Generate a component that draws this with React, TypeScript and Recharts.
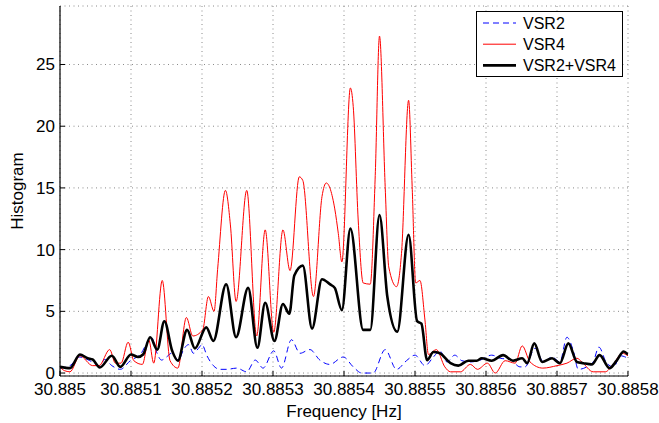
import React from "react";
import {
  CartesianGrid,
  Legend,
  Line,
  LineChart,
  XAxis,
  YAxis,
} from "recharts";

// frequency offsets in µHz from 30.885 Hz
const vsr2Freq = [0, 14, 28, 42, 56, 63, 73, 85, 99, 113, 129, 136, 143, 150, 157, 167, 174, 181, 188, 195, 200, 207, 216, 225, 235, 249, 263, 275, 286, 301, 312, 326, 338, 352, 366, 380, 399, 413, 425, 441, 458, 474, 488, 500, 514, 526, 535, 545, 556, 566, 578, 592, 608, 620, 634, 648, 655, 669, 681, 693, 704, 714, 723, 730, 742, 751, 759, 770, 780, 789, 800];
const vsr2Hist = [0.4, 0.6, 1.3, 1.0, 0.6, 1.1, 0.6, 0.3, 1.0, 1.5, 2.9, 1.7, 1.05, 1.3, 1.6, 1.05, 1.9, 2.3, 1.6, 2.0, 2.3, 1.4, 0.6, 0.3, 0.3, 0.4, 0.1, 1.05, 0.4, 1.8, 0.4, 2.7, 1.6, 1.9, 1.05, 0.7, 1.3, 0.5, 0.0, 0.0, 1.9, 0.3, 1.0, 1.45, 0.6, 1.3, 1.8, 0.9, 1.45, 1.0, 0.9, 1.05, 1.45, 1.2, 1.1, 0.5, 0.5, 2.0, 0.9, 1.3, 0.9, 2.9, 1.8, 0.3, 0.5, 0.9, 2.1, 0.8, 0.5, 1.4, 1.2];

const vsr4Freq = [0, 6, 14, 28, 46, 55, 70, 78, 86, 96, 104, 116, 125, 132, 144, 155, 166, 178, 187, 201, 209, 217, 222, 233, 240, 248, 263, 277, 289, 301, 314, 324, 337, 342, 357, 369, 375, 387, 392, 397, 409, 413, 420, 427, 437, 444, 450, 458, 463, 474, 481, 491, 496, 501, 507, 514, 519, 530, 542, 550, 564, 578, 588, 602, 613, 627, 641, 651, 662, 680, 700, 714, 728, 735, 751, 768, 779, 792, 800];
const vsr4Hist = [0.5, 0.2, 0.1, 1.4, 0.6, 0.6, 1.9, 0.8, 0.8, 2.5, 1.0, 0.7, 2.7, 0.8, 7.5, 1.0, 0.4, 4.5, 3.0, 3.5, 6.2, 5.0, 8.4, 14.8, 12.0, 5.8, 14.8, 3.0, 11.6, 3.3, 11.6, 8.3, 15.9, 15.6, 6.2, 14.3, 15.4, 13.3, 11.3, 9.0, 23.1, 21.6, 12.4, 7.3, 7.2, 16.0, 27.3, 15.1, 8.6, 7.0, 9.7, 22.1, 15.1, 7.3, 7.5, 4.3, 1.5, 1.9, 0.5, 0.1, 0.1, 0.7, 0.3, 0.8, 0.0, 1.0, 0.8, 2.2, 0.9, 0.4, 0.6, 0.8, 1.2, 0.9, 0.1, 0.1, 0.7, 1.6, 1.4];

const sumFreq = [0, 14, 28, 39, 46, 56, 73, 85, 100, 110, 117, 127, 137, 147, 158, 166, 179, 190, 206, 216, 234, 248, 265, 278, 289, 302, 314, 323, 330, 342, 355, 369, 380, 387, 397, 409, 427, 437, 450, 461, 475, 491, 503, 509, 517, 526, 535, 550, 561, 575, 587, 594, 608, 624, 638, 651, 658, 668, 679, 693, 704, 716, 728, 737, 749, 760, 774, 784, 794, 800];
const sumHist = [0.5, 0.4, 1.5, 1.2, 1.1, 0.45, 1.4, 0.5, 1.5, 1.3, 1.5, 2.9, 1.9, 4.2, 1.8, 1.0, 3.5, 2.0, 3.7, 2.6, 7.2, 2.9, 6.9, 2.05, 5.7, 2.6, 5.6, 4.8, 7.9, 8.7, 3.6, 7.6, 7.2, 6.9, 5.1, 11.7, 3.5, 3.5, 12.8, 6.2, 3.35, 11.2, 4.2, 4.0, 1.05, 1.7, 1.6, 0.8, 0.6, 1.0, 1.0, 1.2, 1.0, 1.45, 1.0, 1.2, 0.8, 2.4, 0.9, 1.2, 0.8, 2.4, 0.9, 0.8, 0.7, 1.45, 0.4, 1.0, 1.75, 1.5];

const xTicks = [0, 100, 200, 300, 400, 500, 600, 700, 800];
const xTickLabels = ["30.885", "30.8851", "30.8852", "30.8853", "30.8854", "30.8855", "30.8856", "30.8857", "30.8858"];
const yTicks = [0, 5, 10, 15, 20, 25];

const toRows = (freq: number[], hist: number[]) =>
  freq.map((x, i) => ({ x, v: hist[i] }));

const font = "'Liberation Sans', Arial, sans-serif";

const BottomTick = ({ x, y, payload }: any) => (
  <g>
    <line x1={x} x2={x} y1={y} y2={y - 5} stroke="#000" />
    <text x={x} y={y + 19} textAnchor="middle" fontSize={17} fontFamily={font} fill="#000">
      {xTickLabels[xTicks.indexOf(payload.value)]}
    </text>
  </g>
);
const TopTick = ({ x, y }: any) => <line x1={x} x2={x} y1={y} y2={y + 5} stroke="#000" />;
const LeftTick = ({ x, y, payload }: any) => (
  <g>
    <line x1={x} x2={x + 5} y1={y} y2={y} stroke="#000" />
    <text x={x - 5} y={y} dy="0.35em" textAnchor="end" fontSize={17} fontFamily={font} fill="#000">
      {payload.value}
    </text>
  </g>
);
const RightTick = ({ x, y }: any) => <line x1={x} x2={x - 5} y1={y} y2={y} stroke="#000" />;

const legendItems = [
  { name: "VSR2", color: "#0000ff", width: 1, dash: "6 4" },
  { name: "VSR4", color: "#ff0000", width: 1, dash: undefined },
  { name: "VSR2+VSR4", color: "#000000", width: 2.6, dash: undefined },
];

const LegendBox = () => (
  <svg width={147} height={66} style={{ display: "block" }}>
    <rect x={0.5} y={0.5} width={146} height={65} fill="#fff" stroke="#000" />
    {legendItems.map((it, i) => {
      const cy = 12 + i * 21.2;
      return (
        <g key={it.name}>
          <line x1={7} x2={40} y1={cy} y2={cy} stroke={it.color} strokeWidth={it.width} strokeDasharray={it.dash} />
          <text x={47} y={cy} dy="0.35em" fontSize={16} fontFamily={font} fill="#000">
            {it.name}
          </text>
        </g>
      );
    })}
  </svg>
);

export default function App() {
  const domainY: [number, number] = [-0.24, 29.74];
  return (
    <div style={{ position: "absolute", left: 0, top: 0 }}>
      <LineChart width={659} height={423} margin={{ top: 6, right: 31, left: 0, bottom: 0 }}>
        <CartesianGrid stroke="#8a8a8a" strokeDasharray="1 3.5" />
        <XAxis
          dataKey="x"
          type="number"
          domain={[0, 800]}
          ticks={xTicks}
          allowDataOverflow
          height={47}
          tickSize={0}
          tickMargin={0}
          tickLine={false}
          tick={<BottomTick />}
          stroke="#000"
          strokeWidth={1.2}
          label={{ value: "Frequency [Hz]", position: "insideBottom", offset: 6, fontSize: 17, fontFamily: font, fill: "#000" }}
        />
        <XAxis
          xAxisId="top"
          orientation="top"
          type="number"
          domain={[0, 800]}
          ticks={xTicks}
          allowDataOverflow
          height={0}
          tickSize={0}
          tickMargin={0}
          tickLine={false}
          tick={<TopTick />}
          stroke="#000"
          strokeWidth={1.2}
        />
        <YAxis
          type="number"
          domain={domainY}
          ticks={yTicks}
          allowDataOverflow
          width={60}
          tickSize={0}
          tickMargin={0}
          tickLine={false}
          tick={<LeftTick />}
          stroke="#000"
          strokeWidth={1.2}
          label={{ value: "Histogram", angle: -90, position: "insideLeft", offset: 17, style: { textAnchor: "middle" }, fontSize: 17, fontFamily: font, fill: "#000" }}
        />
        <YAxis
          yAxisId="right"
          orientation="right"
          type="number"
          domain={domainY}
          ticks={yTicks}
          allowDataOverflow
          width={0}
          tickSize={0}
          tickMargin={0}
          tickLine={false}
          tick={<RightTick />}
          stroke="#000"
          strokeWidth={1.2}
        />
        <Line data={toRows(vsr2Freq, vsr2Hist)} dataKey="v" type="monotone" stroke="#0000ff" strokeWidth={1} strokeDasharray="6 4" dot={false} isAnimationActive={false} />
        <Line data={toRows(vsr4Freq, vsr4Hist)} dataKey="v" type="monotone" stroke="#ff0000" strokeWidth={1} dot={false} isAnimationActive={false} />
        <Line data={toRows(sumFreq, sumHist)} dataKey="v" type="monotone" stroke="#000000" strokeWidth={2.6} dot={false} isAnimationActive={false} />
        <Legend
          layout="vertical"
          align="center"
          verticalAlign="middle"
          wrapperStyle={{ left: 476, top: 11, width: 147, height: 66 }}
          content={() => <LegendBox />}
        />
      </LineChart>
    </div>
  );
}
